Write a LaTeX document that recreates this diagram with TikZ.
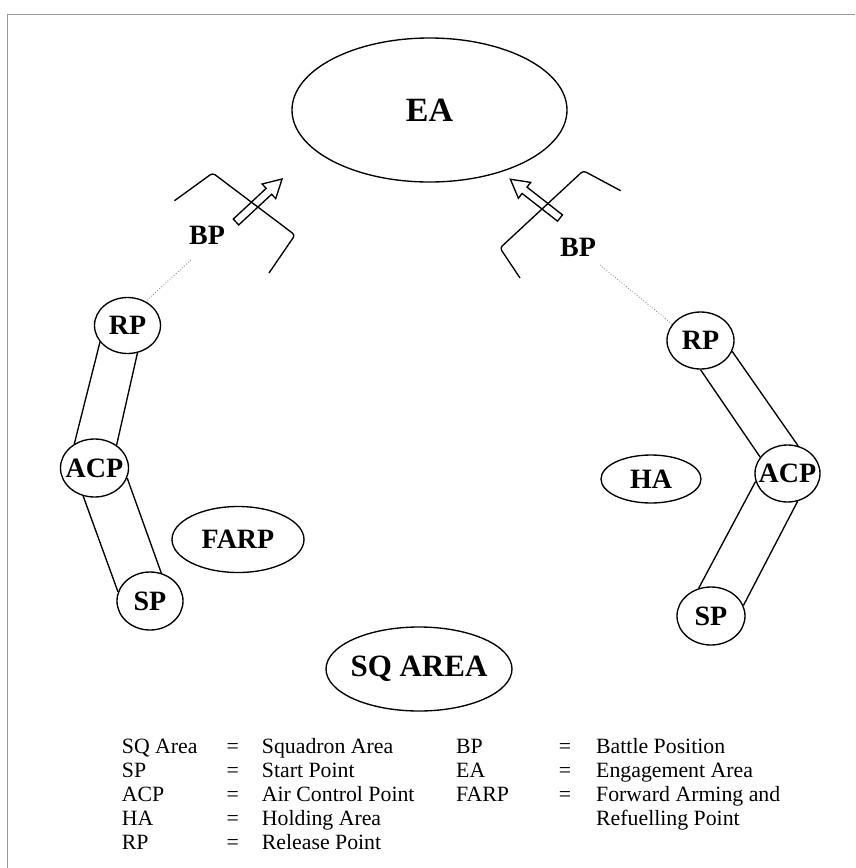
\documentclass[tikz,border=0pt]{standalone}
\usepackage{fontspec}
\setmainfont{Liberation Serif}
\usetikzlibrary{shapes.geometric}
\newcommand\zonetext[1]{\makebox[0pt]{#1}}
\begin{document}
\begin{tikzpicture}[x=1pt,y=-1pt,
  every node/.style={inner sep=0pt},
  zone/.style={draw, ellipse, line width=1.35pt, font=\bfseries\fontsize{28}{30}\selectfont},
  lbl/.style={font=\bfseries\fontsize{28}{30}\selectfont},
  link/.style={line width=1.35pt},
  guide/.style={dotted, gray, line width=0.8pt},
  bracket/.style={line width=1.35pt, rounded corners=3pt},
  blockarrow/.style={line width=1.35pt, line join=miter},
  legend/.style={font=\fontsize{21.8}{24}\selectfont, anchor=base west},
  legendeq/.style={font=\fontsize{21.8}{24}\selectfont, anchor=base},
  frame/.style={gray!80, line width=1pt}]
\useasboundingbox (0,0) rectangle (855,868);
\draw[frame] (7,868) -- (7,14) -- (855,14);

% main zones
\node[zone, minimum width=275pt, minimum height=144pt, font=\bfseries\fontsize{34}{36}\selectfont] (ea) at (429.5,110) {\zonetext{EA}};
\node[zone, minimum width=186pt, minimum height=84pt, font=\bfseries\fontsize{31}{33}\selectfont] (sq) at (419,669) {\zonetext{SQ AREA}};
\node[zone, minimum width=132pt, minimum height=66pt] (farp) at (238,539.5) {\zonetext{FARP}};
\node[zone, minimum width=100pt, minimum height=48pt] (ha) at (651,479) {\zonetext{HA}};

% left route
\node[zone, minimum width=66pt, minimum height=56pt] (lrp) at (127.5,325.5) {\zonetext{RP}};
\node[zone, minimum width=68pt, minimum height=58pt] (lacp) at (94.5,468) {\zonetext{ACP}};
\node[zone, minimum width=66pt, minimum height=58pt] (lsp) at (150,601) {\zonetext{SP}};
% right route
\node[zone, minimum width=67pt, minimum height=57pt] (rrp) at (700.5,340.5) {\zonetext{RP}};
\node[zone, minimum width=65pt, minimum height=57pt] (racp) at (787.5,473.5) {\zonetext{ACP}};
\node[zone, minimum width=68pt, minimum height=58pt] (rsp) at (711,616) {\zonetext{SP}};

% battle positions
\node[lbl] (lbp) at (207,235) {BP};
\node[lbl] (rbp) at (578,247) {BP};
\coordinate (lbpend) at (191,260);
\coordinate (rbpend) at (600,265);

% corridors
\draw[link] (lrp.211.5) -- (lacp.130.7);
\draw[link] (lrp.290) -- (lacp.46.8);
\draw[link] (lacp.248.4) -- (lsp.164.7);
\draw[link] (lacp.343) -- (lsp.68.6);
\draw[link] (rrp.270) -- (racp.149);
\draw[link] (rrp.341.5) -- (racp.69.2);
\draw[link] (racp.194.9) -- (rsp.114.9);
\draw[link] (racp.290.4) -- (rsp.18.4);

% dotted guides
\draw[guide] (lbpend) -- (lrp.53.6);
\draw[guide] (rbpend) -- (rrp.150.5);

% BP brackets
\draw[bracket] (174.5,200.7) -- (212.7,173) -- (295,235) -- (269,273);
\draw[bracket] (520,278) -- (500,248) -- (583.3,170.7) -- (620.7,190.7);

% block arrows
\begin{scope}[shift={(236,222)}, rotate=43]
\draw[blockarrow] (0,-4) -- (45,-4) -- (45,-10) -- (63,0) -- (45,10) -- (45,4) -- (0,4) -- cycle;
\end{scope}
\begin{scope}[shift={(560,218)}, rotate=142]
\draw[blockarrow] (0,-4) -- (45,-4) -- (45,-10) -- (63,0) -- (45,10) -- (45,4) -- (0,4) -- cycle;
\end{scope}

% legend
\node[legend] (k1) at (121.7,753) {SQ Area};
\node[legend] (k2) at (121.7,777) {SP};
\node[legend] (k3) at (121.7,801) {ACP};
\node[legend] (k4) at (121.7,825) {HA};
\node[legend] (k5) at (121.7,849) {RP};
\node[legendeq] (e1) at (232.7,753) {=};
\node[legendeq] (e2) at (232.7,777) {=};
\node[legendeq] (e3) at (232.7,801) {=};
\node[legendeq] (e4) at (232.7,825) {=};
\node[legendeq] (e5) at (232.7,849) {=};
\node[legend] (d1) at (261.7,753) {Squadron Area};
\node[legend] (d2) at (261.7,777) {Start Point};
\node[legend] (d3) at (261.7,801) {Air Control Point};
\node[legend] (d4) at (261.7,825) {Holding Area};
\node[legend] (d5) at (261.7,849) {Release Point};
\node[legend] (k6) at (456,753) {BP};
\node[legend] (k7) at (456,777) {EA};
\node[legend] (k8) at (456,801) {FARP};
\node[legendeq] (e6) at (565,753) {=};
\node[legendeq] (e7) at (565,777) {=};
\node[legendeq] (e8) at (565,801) {=};
\node[legend] (d6) at (596,753) {Battle Position};
\node[legend] (d7) at (596,777) {Engagement Area};
\node[legend] (d8) at (596,801) {Forward Arming and};
\node[legend] (d9) at (596,825) {Refuelling Point};
\end{tikzpicture}
\end{document}
